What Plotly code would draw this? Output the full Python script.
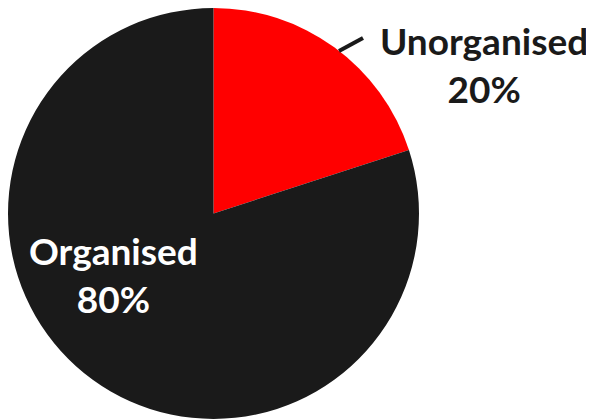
import plotly.graph_objects as go

categories = ["Unorganised", "Organised"]
values = [20, 80]
colors = ["#FF0000", "#1A1A1A"]

# The page body keeps its default 8px margin, so the figure is sized to fit the window
W, H = 586, 411

def px(x):
    return x / W

def py(y):
    return 1 - y / H

fig = go.Figure(go.Pie(
    labels=categories,
    values=values,
    sort=False,
    direction="clockwise",
    rotation=0,
    marker=dict(colors=colors, line=dict(width=0)),
    textinfo="none",
    hoverinfo="label+percent",
    showlegend=False,
    domain=dict(x=[0, px(411)], y=[0, 1]),
))

font_family = "Lato, 'Open Sans', sans-serif"
fig.add_annotation(
    x=px(476), y=py(57), xref="paper", yref="paper",
    text=f"<b>{categories[0]}<br>{values[0]}%</b>",
    showarrow=False, xanchor="center", yanchor="middle",
    font=dict(family=font_family, size=37, color="#1A1A1A"),
)
fig.add_annotation(
    x=px(105), y=py(266), xref="paper", yref="paper",
    text=f"<b>{categories[1]}<br>{values[1]}%</b>",
    showarrow=False, xanchor="center", yanchor="middle",
    font=dict(family=font_family, size=37, color="#FFFFFF"),
)
fig.add_shape(
    type="line", xref="paper", yref="paper",
    x0=px(331), y0=py(43), x1=px(355), y1=py(30),
    line=dict(color="#1A1A1A", width=4),
)

fig.update_layout(
    width=W, height=H,
    margin=dict(l=0, r=0, t=0, b=0),
    paper_bgcolor="white",
    plot_bgcolor="white",
)

fig.write_html("out.html")
